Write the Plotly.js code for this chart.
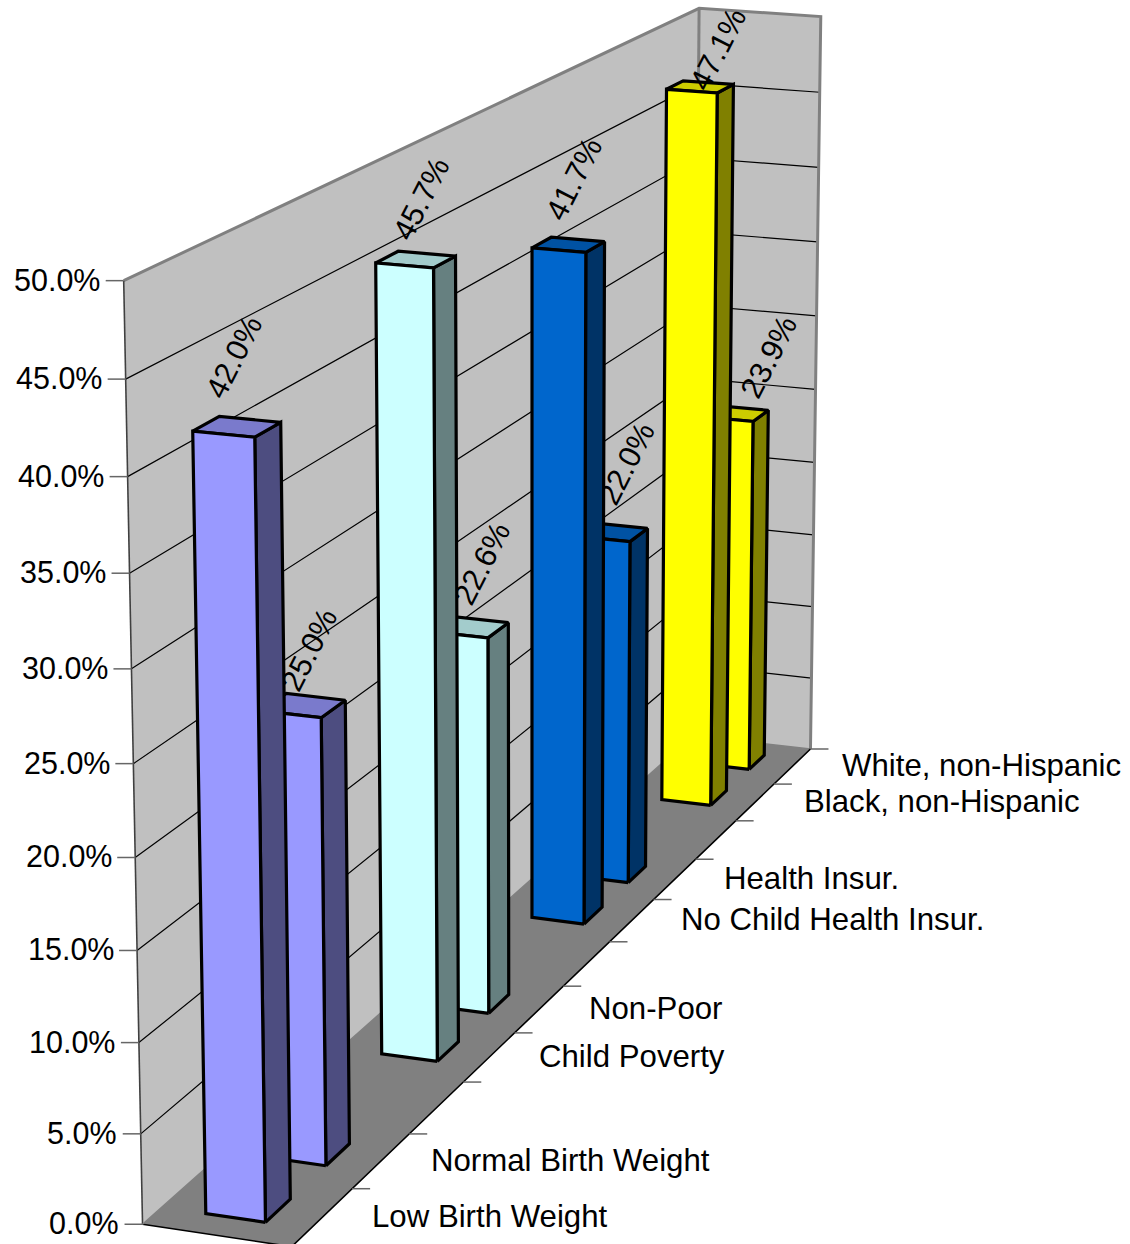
<!DOCTYPE html><html><head><meta charset="utf-8">
<script src="https://cdn.plot.ly/plotly-3.0.1.min.js"></script>
<style>html,body{margin:0;padding:0;background:#fff;overflow:hidden;width:1130px;height:1244px}#p{position:absolute;left:0;top:0;width:1130px;height:1244px}</style></head><body><div id="p"></div>
<script>
const categories=['Low Birth Weight','Normal Birth Weight','','Child Poverty','Non-Poor','','No Child Health Insur.','Health Insur.','','Black, non-Hispanic','White, non-Hispanic'];
const values=[42.0,25.0,null,45.7,22.6,null,41.7,22.0,null,47.1,23.9];
const valueTicks=[0,5,10,15,20,25,30,35,40,45,50];
const frontColors=['#9999FF','#9999FF','','#CCFFFF','#CCFFFF','','#0066CC','#0066CC','','#FFFF00','#FFFF00'];
const sideColors=['#4D4D80','#4D4D80','','#668080','#668080','','#003366','#003366','','#808000','#808000'];
const topColors=['#7A7ACC','#7A7ACC','','#A3CCCC','#A3CCCC','','#0052A3','#0052A3','','#CCCC00','#CCCC00'];
// pixel nudges of the rotated value labels away from the bar's top centre
const labelDx=[-1.5,7,0,7,13,0,7,15,0,18,34];
const labelDy=[-69,-55,0,-60,-63,0,-65,-68,0,-37,-56];
// camera of the 3-D view: data (category, across, value) -> page pixels
const focal=4923.535,px0=813.572,py0=353.241;
const rot=[[.30651,-.95171,.01355],[-.22015,-.08476,-.97199],[.9263,.29467,-.23561]];
const trans=[-3.39826,5.81776,32.06116];
const depthWidth=1.06573,valueHeight=6.36083,valueMax=50;
const barGap=.29798,rowFront=.29921,rowBack=.70213;
function project(c,a,v){const X=[c,a*depthWidth,v/valueMax*valueHeight];
 const q=rot.map((r,i)=>r[0]*X[0]+r[1]*X[1]+r[2]*X[2]+trans[i]);
 return [px0+focal*q[0]/q[2],py0+focal*q[1]/q[2]];}
const n=categories.length;
const FONT='Liberation Sans, Arial, sans-serif';
const ANGLE=-63;
function pathOf(pts,close){return pts.map((p,i)=>{const u=project(...p);return (i?'L':'M')+u[0].toFixed(2)+','+u[1].toFixed(2);}).join('')+(close?'Z':'');}
function shapePoly(pts,fill){return {type:'path',xref:'x',yref:'y',layer:'below',path:pathOf(pts,true),fillcolor:fill,line:{width:0}};}
function shapeLine(pts,color,width){return {type:'path',xref:'x',yref:'y',layer:'below',path:pathOf(pts,false),fillcolor:'rgba(0,0,0,0)',line:{color,width}};}
const shapes=[];
shapes.push(shapePoly([[0,1,0],[n,1,0],[n,1,50],[0,1,50]],'#C0C0C0'));
shapes.push(shapePoly([[n,1,0],[n,0,0],[n,0,50],[n,1,50]],'#C0C0C0'));
shapes.push(shapePoly([[0,0,0],[n,0,0],[n,1,0],[0,1,0]],'#808080'));
valueTicks.slice(1,-1).forEach(z=>shapes.push(shapeLine([[0,1,z],[n,1,z],[n,0,z]],'#000',1.2)));
shapes.push(shapeLine([[0,1,50],[n,1,50],[n,0,50],[n,0,0]],'#808080',3));
shapes.push(shapeLine([[n,1,50],[n,1,0]],'#808080',3));
shapes.push(shapeLine([[0,1,50],[0,1,0]],'#404040',1.6));
shapes.push(shapeLine([[n,1,0],[n,0,0]],'#808080',1.5));
shapes.push(shapeLine([[0,1,0],[0,0,0],[n,0,0]],'#000',1.6));
shapes.push(shapeLine([[0,1,0],[n,1,0]],'#808080',1.5));
const TICK=18;
const traces=[];
function tickTrace(name,anchor,dir){const X=[],Y=[];anchor.forEach(p=>{const u=project(...p);X.push(u[0],u[0]+dir*TICK,null);Y.push(u[1],u[1],null);});
 return {type:'scatter',mode:'lines',name,x:X,y:Y,line:{color:'#666',width:1.5},hoverinfo:'skip',showlegend:false,connectgaps:false,cliponaxis:true};}
traces.push(tickTrace('value ticks',valueTicks.map(z=>[0,1,z]),-1));
traces.push(tickTrace('category ticks',Array.from({length:n+1},(_,i)=>[i,0,0]),1));
function polyTrace(name,pts,fill,val){const u=pts.concat([pts[0]]).map(p=>project(...p));
 return {type:'scatter',mode:'lines',name,x:u.map(a=>a[0]),y:u.map(a=>a[1]),fill:'toself',fillcolor:fill,line:{color:'#000',width:3.2,simplify:false},hoverinfo:'text',text:name+': '+val.toFixed(1)+'%',showlegend:false};}
for(let c=n-1;c>=0;c--){const v=values[c];if(v==null)continue;const a=c+barGap,b=c+1-barGap;
 traces.push(polyTrace(categories[c],[[a,rowFront,0],[b,rowFront,0],[b,rowFront,v],[a,rowFront,v]],sideColors[c],v));
 traces.push(polyTrace(categories[c],[[a,rowFront,v],[b,rowFront,v],[b,rowBack,v],[a,rowBack,v]],topColors[c],v));
 traces.push(polyTrace(categories[c],[[a,rowFront,0],[a,rowBack,0],[a,rowBack,v],[a,rowFront,v]],frontColors[c],v));
}
const anns=[];
valueTicks.forEach(z=>{const u=project(0,1,z);anns.push({x:u[0],y:u[1],xref:'x',yref:'y',text:z.toFixed(1)+'%',showarrow:false,xanchor:'right',yanchor:'middle',xshift:-21.5,yshift:1,font:{family:FONT,size:30.5,color:'#000'}});});
categories.forEach((t,c)=>{if(!t)return;const u=project(c+.5,0,0);anns.push({x:u[0],y:u[1],xref:'x',yref:'y',text:t,showarrow:false,xanchor:'left',yanchor:'middle',xshift:47.5,yshift:0.5,font:{family:FONT,size:31.2,color:'#000'}});});
values.forEach((v,c)=>{if(v==null)return;const u=project(c+.5,(rowFront+rowBack)/2,v);const x=u[0]+labelDx[c],y=u[1]+labelDy[c],t=v.toFixed(1)+'%';
 if(c===9){anns.push({x,y,xref:'x',yref:'y',text:t,showarrow:false,xanchor:'center',yanchor:'middle',textangle:ANGLE,font:{family:FONT,size:30.8,color:'#000'}});}
 else shapes.push({type:'rect',xref:'x',yref:'y',layer:'below',x0:x-5,x1:x-3,y0:y-3,y1:y-1,fillcolor:'rgba(0,0,0,0)',line:{width:0},label:{text:t,textangle:ANGLE,textposition:'middle center',font:{family:FONT,size:30.8,color:'#000'}}});
});
const ax={visible:false,fixedrange:true,showgrid:false,zeroline:false};
Plotly.newPlot('p',traces,{width:1130,height:1244,margin:{l:0,r:0,t:0,b:0,pad:0},paper_bgcolor:'#fff',plot_bgcolor:'#fff',showlegend:false,
 xaxis:{...ax,range:[0,1130]},yaxis:{...ax,range:[1244,0]},shapes,annotations:anns},{displayModeBar:false,staticPlot:true});
</script></body></html>
